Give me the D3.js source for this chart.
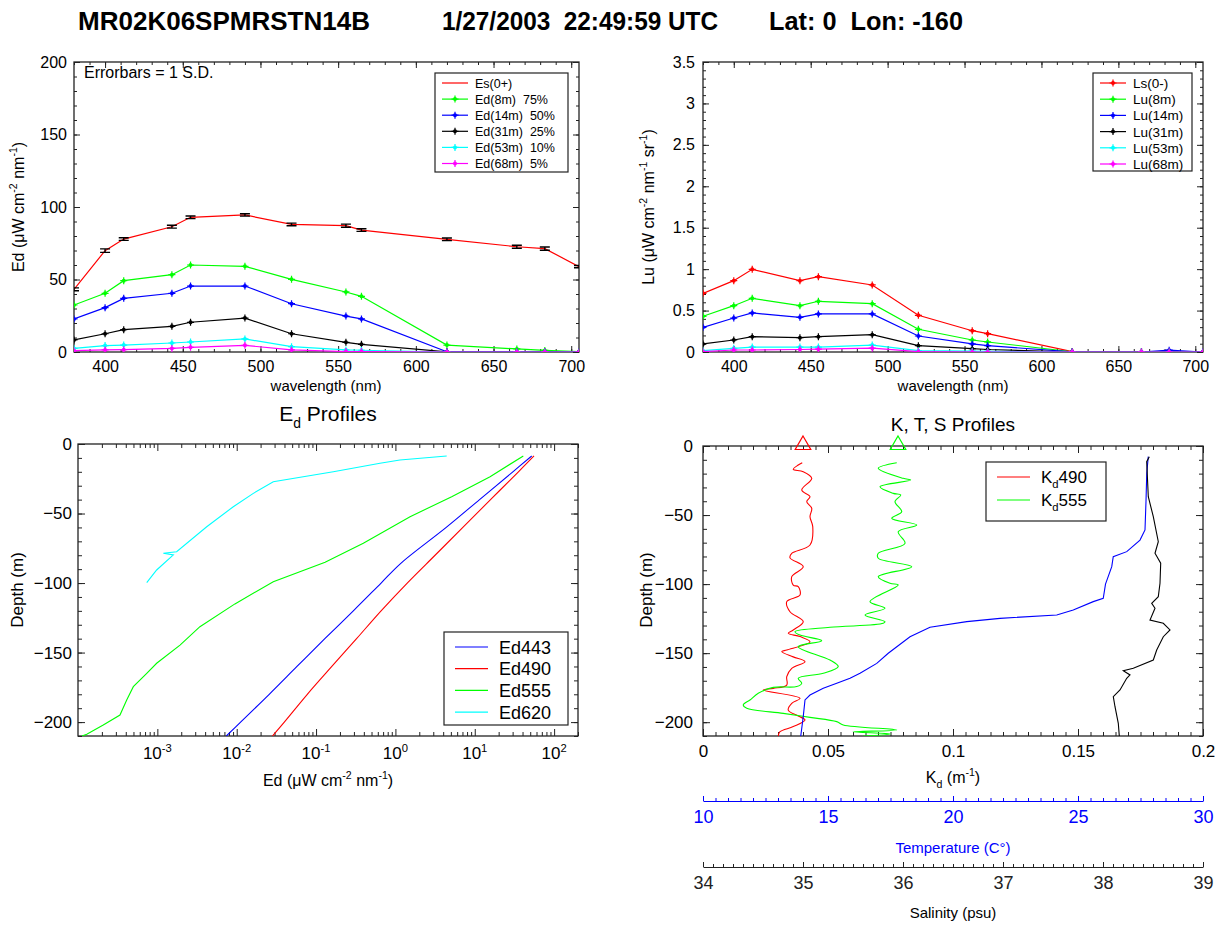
<!DOCTYPE html>
<html>
<head>
<meta charset="utf-8">
<script src="https://cdn.jsdelivr.net/npm/d3@7"></script>
<style>
  body { margin: 0; background: #fff; }
  svg { font-family: Arial, "Liberation Sans", Helvetica, sans-serif; }
</style>
</head>
<body>
<svg id="chart" width="1228" height="927"></svg>
<script>
// ---------------- spectral data (wavelength, nm) ----------------
const wavelengths = [380, 400, 412, 443, 455, 490, 520, 555, 565, 620, 665, 683, 705];

// Downwelling irradiance, uW cm^-2 nm^-1
const es0   = [43.2, 69.9, 77.9, 86.4, 92.9, 94.5, 88.0, 87.1, 84.1, 77.7, 72.6, 71.3, 58.9];
const es0SD = [1.0, 1.2, 0.9, 1.0, 0.9, 0.8, 0.9, 1.1, 0.9, 0.9, 1.0, 1.1, 0.8];
const ed8m  = [32.4, 40.5, 49.2, 53.3, 60.0, 59.1, 50.1, 41.4, 38.4, 4.8, 2.1, 1.1, 0.3];
const ed14m = [22.8, 30.6, 37.0, 40.5, 45.5, 45.5, 33.3, 24.8, 22.8, 0.2, 0.05, 0.03, 0.0];
const ed31m = [8.3, 12.6, 15.4, 17.7, 20.5, 23.4, 12.6, 6.7, 5.3, 0.1, 0, 0, 0];
const ed53m = [2.5, 4.4, 4.8, 6.2, 6.9, 9.0, 3.7, 1.4, 1.2, 0, 0, 0, 0];
const ed68m = [0.9, 1.4, 1.6, 2.5, 3.2, 4.6, 1.4, 0.3, 0.3, 0, 0, 0, 0];
const edLabels = ["Es(0+)", "Ed(8m)  75%", "Ed(14m)  50%", "Ed(31m)  25%", "Ed(53m)  10%", "Ed(68m)  5%"];

// Upwelling radiance, uW cm^-2 nm^-1 sr^-1
const ls0   = [0.708, 0.861, 0.998, 0.861, 0.909, 0.809, 0.443, 0.257, 0.221, 0.005, 0, 0, 0];
const lu8m  = [0.431, 0.559, 0.648, 0.559, 0.612, 0.583, 0.274, 0.145, 0.121, 0.003, 0, 0, 0];
const lu14m = [0.298, 0.410, 0.471, 0.418, 0.459, 0.459, 0.193, 0.097, 0.076, 0.002, 0, 0.022, 0];
const lu31m = [0.097, 0.145, 0.185, 0.173, 0.185, 0.209, 0.076, 0.040, 0.030, 0, 0, 0, 0];
const lu53m = [0.016, 0.044, 0.060, 0.060, 0.060, 0.084, 0.016, 0.010, 0.008, 0, 0, 0, 0];
const lu68m = [0.004, 0.024, 0.024, 0.030, 0.034, 0.046, 0.004, 0, 0, 0, 0, 0, 0];
const luLabels = ["Ls(0-)", "Lu(8m)", "Lu(14m)", "Lu(31m)", "Lu(53m)", "Lu(68m)"];

const seriesColors = ["#ff0000", "#00ff00", "#0000ff", "#000000", "#00ffff", "#ff00ff"];

// ---------------- Ed depth profiles ----------------
const ed443Depth = [-8.6, -20, -40, -60, -85.8, -100, -120, -140, -160, -180, -200, -210];
const ed443      = [52.2, 30.2, 11.5, 4.37, 1.17, 0.66, 0.295, 0.129, 0.0575, 0.0257, 0.0112, 0.0074];
const ed490Depth = [-8.6, -20, -40, -60, -80, -100, -120, -140, -160, -180, -200, -210];
const ed490      = [55.8, 35.5, 15.8, 7.08, 3.16, 1.41, 0.66, 0.324, 0.158, 0.0776, 0.0398, 0.0282];
const ed555Depth = [-8.6, -23.5, -37.9, -52.3, -71.4, -85, -99, -115, -131.4, -144.6, -157.7, -164.9, -174.5, -184.1, -194.9, -202.1, -208.8, -210];
const ed555      = [40.9, 15.6, 5.12, 1.53, 0.394, 0.13, 0.0289, 0.0095, 0.00344, 0.00193, 0.00098, 0.000735, 0.000498, 0.000411, 0.000338, 0.000208, 0.000129, 0.000112];
const ed620Depth = [-8.6, -11.5, -13.9, -19.9, -27.1, -35.5, -45.1, -59.5, -77.5, -78.6, -79.8, -90.6, -99.7];
const ed620      = [4.43, 1.14, 0.64, 0.165, 0.0289, 0.0162, 0.00906, 0.00419, 0.00175, 0.00119, 0.00159, 0.00098, 0.000735];
const edProfileLabels = ["Ed443", "Ed490", "Ed555", "Ed620"];
const edProfileColors = ["#0000ff", "#ff0000", "#00ff00", "#00ffff"];
const logDecades = [-3, -2, -1, 0, 1, 2];

// ---------------- K, T, S profiles ----------------
const kd490Depth = [-12.1, -13.8, -16.9, -18.6, -23.4, -31.9, -36.7, -40.3, -45.1, -51.2, -58.4, -71.7, -77.7, -81, -87.4, -94.6, -100.7, -101.9, -107.9, -112.7, -120, -127.2, -133.2, -135.6, -138, -141.7, -147.7, -148.9, -152.7, -156.2, -161, -167, -173.1, -175.5, -176.7, -182.7, -186.3, -191.2, -195.5, -198.4, -203.2, -206.9, -210];
const kd490      = [0.0397, 0.0381, 0.0361, 0.0401, 0.0435, 0.0395, 0.0428, 0.0415, 0.0435, 0.0428, 0.0439, 0.0428, 0.0355, 0.0348, 0.0401, 0.0355, 0.0361, 0.0381, 0.0388, 0.0335, 0.0348, 0.0401, 0.0361, 0.0341, 0.0388, 0.0428, 0.0335, 0.0315, 0.0361, 0.0408, 0.0355, 0.0335, 0.0335, 0.0281, 0.0241, 0.0388, 0.0355, 0.0341, 0.0381, 0.0408, 0.0361, 0.0308, 0.0301];
const kd555Depth = [-12.1, -16.1, -23.4, -24.6, -29.5, -34.3, -35.5, -40.3, -47.6, -52.4, -57.2, -62.1, -70.5, -77.7, -81.3, -87.4, -94.6, -99.4, -100.6, -112.7, -117.5, -122.4, -127.2, -128.4, -131.3, -134.5, -136.9, -141, -145.3, -155, -159.8, -164.6, -168.2, -171.8, -174.2, -174.8, -179.1, -183.9, -187.5, -189.9, -193.6, -196.5, -199.6, -202, -205.6, -207, -208.5, -210];
const kd555      = [0.0775, 0.0701, 0.0801, 0.0831, 0.0708, 0.0761, 0.0791, 0.0768, 0.0795, 0.0755, 0.0855, 0.0781, 0.0808, 0.0701, 0.0701, 0.0835, 0.0701, 0.0748, 0.0781, 0.0668, 0.0728, 0.0648, 0.0728, 0.0721, 0.0508, 0.0368, 0.0388, 0.0475, 0.0381, 0.0508, 0.0541, 0.0481, 0.0381, 0.0395, 0.0375, 0.0281, 0.0221, 0.0188, 0.0161, 0.0175, 0.0321, 0.0428, 0.0535, 0.0561, 0.0775, 0.060, 0.075, 0.064];
const kdSurface  = [0.040, 0.078];   // 490, 555
const tempDepth = [-7.7, -19.8, -40, -60.8, -68.1, -76.5, -80.2, -87.4, -100, -110.3, -112.7, -118.8, -122.4, -124.8, -127.2, -131.3, -138.1, -150.1, -157.4, -164.6, -168.2, -171.8, -175.5, -180.3, -183.9, -196, -210];
const temp      = [27.81, 27.75, 27.72, 27.68, 27.48, 26.95, 26.41, 26.35, 26.1, 26.01, 25.61, 24.81, 24.15, 21.88, 20.55, 19.08, 18.28, 17.41, 16.95, 16.28, 15.88, 15.35, 14.81, 14.28, 14.08, 14.01, 13.91];
const salDepth = [-7.7, -11.4, -36.7, -51.2, -69.3, -77.7, -84.9, -99.4, -109.1, -113.9, -117.5, -126, -128.4, -133.2, -138.1, -147.7, -155, -161, -162.7, -165.8, -168.2, -176.7, -181.5, -188.8, -200.8, -210];
const sal      = [38.463, 38.437, 38.453, 38.503, 38.553, 38.52, 38.577, 38.57, 38.553, 38.487, 38.52, 38.47, 38.603, 38.67, 38.603, 38.537, 38.503, 38.303, 38.203, 38.27, 38.237, 38.17, 38.103, 38.12, 38.153, 38.163];

// tick values
const waveTicks = [400, 450, 500, 550, 600, 650, 700];
const waveMinor = d3.range(380, 705, 10);
const edTicks = [0, 50, 100, 150, 200];
const edMinor = d3.range(0, 201, 10);
const luTicks = d3.range(0, 3.51, 0.5);
const luMinor = d3.range(0, 3.51, 0.1);
const depthTicks = [0, -50, -100, -150, -200];
const depthMinor = d3.range(0, -211, -10);
const kdTicks = [0, 0.05, 0.1, 0.15, 0.2];
const kdTickLabels = ["0", "0.05", "0.1", "0.15", "0.2"];
const kdMinor = d3.range(0, 0.2001, 0.005);
const tempTicks = [10, 15, 20, 25, 30];
const tempMinor = d3.range(10, 30.01, 0.5);
const salTicks = [34, 35, 36, 37, 38, 39];
const salMinor = d3.range(34, 39.001, 0.1);

// ---------------- drawing ----------------
const FONT = "Arial, 'Liberation Sans', Helvetica, sans-serif";
const svg = d3.select("#chart");
const FRAME = "#222";

const xTL = d3.scaleLinear().domain([380, 705]).range([74, 579]);
const yTL = d3.scaleLinear().domain([0, 200]).range([352, 62]);
const xTR = d3.scaleLinear().domain([380, 705]).range([703, 1203]);
const yTR = d3.scaleLinear().domain([0, 3.5]).range([352, 62]);
const xBL = d3.scaleLog().domain([1e-4, 200]).range([78, 578]);
const yBL = d3.scaleLinear().domain([-210, 0]).range([736, 444]);
const xKd = d3.scaleLinear().domain([0, 0.2]).range([703, 1203]);
const xT  = d3.scaleLinear().domain([10, 30]).range([703, 1203]);
const xS  = d3.scaleLinear().domain([34, 39]).range([703, 1203]);
const yBR = d3.scaleLinear().domain([-210, 0]).range([736, 446]);

function axisGroup(gen, tx, ty, o = {}) {
  const g = svg.append("g").attr("transform", `translate(${tx},${ty})`).call(gen);
  if (!o.keepDomain) g.select(".domain").remove();
  else g.select(".domain").attr("stroke", o.color || FRAME).attr("stroke-width", 1.2);
  g.selectAll(".tick line").attr("stroke", o.color || FRAME).attr("stroke-width", 1);
  g.selectAll(".tick text").attr("font-family", FONT).attr("font-size", o.fs || 16).attr("fill", o.color || "#000");
  return g;
}

function framedAxes(x, y, c) {
  const [l, r] = x.range(), [b, t] = y.range();
  const none = () => "";
  axisGroup(d3.axisBottom(x).tickValues(c.xMajor).tickSizeInner(-c.major).tickSizeOuter(0).tickPadding(c.xPad).tickFormat(c.xFmt || none), 0, b, { fs: c.fs });
  axisGroup(d3.axisBottom(x).tickValues(c.xMinor).tickSizeInner(-c.minor).tickSizeOuter(0).tickFormat(none), 0, b);
  axisGroup(d3.axisTop(x).tickValues(c.xMajor).tickSizeInner(-c.major).tickSizeOuter(0).tickFormat(none), 0, t);
  axisGroup(d3.axisTop(x).tickValues(c.xMinor).tickSizeInner(-c.minor).tickSizeOuter(0).tickFormat(none), 0, t);
  axisGroup(d3.axisLeft(y).tickValues(c.yMajor).tickSizeInner(-c.major).tickSizeOuter(0).tickPadding(c.yPad).tickFormat(c.yFmt || none), l, 0, { fs: c.fs });
  axisGroup(d3.axisLeft(y).tickValues(c.yMinor).tickSizeInner(-c.minor).tickSizeOuter(0).tickFormat(none), l, 0);
  axisGroup(d3.axisRight(y).tickValues(c.yMajor).tickSizeInner(-c.major).tickSizeOuter(0).tickFormat(none), r, 0);
  axisGroup(d3.axisRight(y).tickValues(c.yMinor).tickSizeInner(-c.minor).tickSizeOuter(0).tickFormat(none), r, 0);
  svg.append("rect").attr("x", l).attr("y", t).attr("width", r - l).attr("height", b - t)
    .attr("fill", "none").attr("stroke", FRAME).attr("stroke-width", 1.3);
}

// text with super/subscripts
function rich(sel, parts, fs) {
  let shift = 0;
  parts.forEach(p => {
    const target = p.sup ? -0.42 * fs : p.sub ? 0.32 * fs : 0;
    sel.append("tspan").attr("dy", target - shift)
      .attr("font-size", (p.sup || p.sub) ? fs * 0.66 : fs).text(p.t);
    shift = target;
  });
  return sel;
}
function label(x, y, parts, fs, o = {}) {
  const t = svg.append("text").attr("x", x).attr("y", y).attr("font-family", FONT)
    .attr("font-size", fs).attr("text-anchor", o.anchor || "middle").attr("fill", o.color || "#000")
    .style("white-space", "pre");
  if (o.rotate) t.attr("transform", `rotate(-90,${x},${y})`);
  if (o.weight) t.attr("font-weight", o.weight);
  return rich(t, parts, fs);
}

function clip(id, x, y) {
  const [l, r] = x.range(), [b, t] = y.range();
  svg.append("clipPath").attr("id", id).append("rect")
    .attr("x", l).attr("y", t - 12).attr("width", r - l).attr("height", b - t + 12);
  return `url(#${id})`;
}

function drawMarker(g, cx, cy, color) {
  g.append("circle").attr("cx", cx).attr("cy", cy).attr("r", 2).attr("fill", color);
  g.append("path").attr("d", `M${cx - 3.5},${cy}H${cx + 3.5}M${cx},${cy - 3.5}V${cy + 3.5}`)
    .attr("stroke", color).attr("stroke-width", 1.2);
}

// ---- title ----
const titleParts = [
  { text: "MR02K06SPMRSTN14B", x: 78, w: 292 },
  { text: "1/27/2003  22:49:59 UTC", x: 442, w: 276 },
  { text: "Lat: 0  Lon: -160", x: 769, w: 194 }
];
titleParts.forEach(p => {
  svg.append("text").attr("x", p.x).attr("y", 30).attr("font-family", FONT)
    .attr("font-size", 26).attr("font-weight", "bold").style("white-space", "pre")
    .attr("textLength", p.w).attr("lengthAdjust", "spacingAndGlyphs").text(p.text);
});

// ================= top-left: Ed spectra =================
framedAxes(xTL, yTL, {
  xMajor: waveTicks, xMinor: waveMinor, yMajor: edTicks, yMinor: edMinor,
  major: 6, minor: 3, xPad: 9, yPad: 7, fs: 16, xFmt: d3.format("d"), yFmt: d3.format("d")
});
{
  const g = svg.append("g").attr("clip-path", clip("clipTL", xTL, yTL));
  const edSeries = [es0, ed8m, ed14m, ed31m, ed53m, ed68m];
  const line = d3.line().x((d, i) => xTL(wavelengths[i])).y(d => yTL(d));
  edSeries.forEach((s, k) => {
    g.append("path").datum(s).attr("d", line).attr("fill", "none")
      .attr("stroke", seriesColors[k]).attr("stroke-width", 1.2);
    if (k === 0) {
      s.forEach((v, i) => {
        const cx = xTL(wavelengths[i]), y1 = yTL(v + es0SD[i]), y2 = yTL(v - es0SD[i]);
        g.append("path").attr("d", `M${cx},${y1}V${y2}M${cx - 5},${y1}H${cx + 5}M${cx - 5},${y2}H${cx + 5}`)
          .attr("stroke", "#000").attr("stroke-width", 1.4).attr("fill", "none");
      });
    } else {
      s.forEach((v, i) => drawMarker(g, xTL(wavelengths[i]), yTL(v), seriesColors[k]));
    }
  });
  svg.append("text").attr("x", 84).attr("y", 78).attr("font-family", FONT).attr("font-size", 16)
    .text("Errorbars = 1 S.D.");
  // legend
  const lg = svg.append("g");
  lg.append("rect").attr("x", 435).attr("y", 73).attr("width", 133).attr("height", 99)
    .attr("fill", "#fff").attr("stroke", FRAME).attr("stroke-width", 1.2);
  edLabels.forEach((t, k) => {
    const cy = 83 + k * 16.1;
    lg.append("line").attr("x1", 442).attr("x2", 468).attr("y1", cy).attr("y2", cy)
      .attr("stroke", seriesColors[k]).attr("stroke-width", 1.2);
    if (k > 0) drawMarker(lg, 455, cy, seriesColors[k]);
    lg.append("text").attr("x", 475).attr("y", cy + 4.5).attr("font-family", FONT)
      .attr("font-size", 12.5).style("white-space", "pre").text(t);
  });
}
label(326, 391, [{ t: "wavelength (nm)" }], 15);
label(24, 207, [{ t: "Ed (μW cm" }, { t: "-2", sup: true }, { t: " nm" }, { t: "-1", sup: true }, { t: ")" }], 16, { rotate: true });

// ================= top-right: Lu spectra =================
framedAxes(xTR, yTR, {
  xMajor: waveTicks, xMinor: waveMinor, yMajor: luTicks, yMinor: luMinor,
  major: 6, minor: 3, xPad: 9, yPad: 8, fs: 16, xFmt: d3.format("d"), yFmt: d3.format("~g")
});
{
  const g = svg.append("g").attr("clip-path", clip("clipTR", xTR, yTR));
  const luSeries = [ls0, lu8m, lu14m, lu31m, lu53m, lu68m];
  const line = d3.line().x((d, i) => xTR(wavelengths[i])).y(d => yTR(d));
  luSeries.forEach((s, k) => {
    g.append("path").datum(s).attr("d", line).attr("fill", "none")
      .attr("stroke", seriesColors[k]).attr("stroke-width", 1.2);
    s.forEach((v, i) => drawMarker(g, xTR(wavelengths[i]), yTR(v), seriesColors[k]));
  });
  const lg = svg.append("g");
  lg.append("rect").attr("x", 1093).attr("y", 73).attr("width", 99).attr("height", 98)
    .attr("fill", "#fff").attr("stroke", FRAME).attr("stroke-width", 1.2);
  luLabels.forEach((t, k) => {
    const cy = 83 + k * 16.2;
    lg.append("line").attr("x1", 1100).attr("x2", 1126).attr("y1", cy).attr("y2", cy)
      .attr("stroke", seriesColors[k]).attr("stroke-width", 1.2);
    drawMarker(lg, 1113, cy, seriesColors[k]);
    lg.append("text").attr("x", 1133).attr("y", cy + 5).attr("font-family", FONT)
      .attr("font-size", 13.5).text(t);
  });
}
label(953, 391, [{ t: "wavelength (nm)" }], 15);
label(654, 207, [{ t: "Lu (μW cm" }, { t: "-2", sup: true }, { t: " nm" }, { t: "-1", sup: true }, { t: " sr" }, { t: "-1", sup: true }, { t: ")" }], 16, { rotate: true });

// ================= bottom-left: Ed profiles =================
{
  const logMajor = logDecades.map(e => Math.pow(10, e));
  const logMinor = [];
  for (let e = -4; e <= 2; e++) for (let m = 2; m <= 9; m++) {
    const v = m * Math.pow(10, e);
    if (v <= 200) logMinor.push(v);
  }
  framedAxes(xBL, yBL, {
    xMajor: logMajor, xMinor: logMinor, yMajor: depthTicks, yMinor: depthMinor,
    major: 7, minor: 4, xPad: 9, yPad: 6, fs: 17, xFmt: () => "", yFmt: d3.format("d")
  });
  logDecades.forEach(e => {
    label(xBL(Math.pow(10, e)), 759, [{ t: "10" }, { t: String(e), sup: true }], 17);
  });
  const g = svg.append("g").attr("clip-path", clip("clipBL", xBL, yBL));
  const profiles = [[ed443, ed443Depth], [ed490, ed490Depth], [ed555, ed555Depth], [ed620, ed620Depth]];
  profiles.forEach(([vals, dep], k) => {
    const line = d3.line().x(d => xBL(d)).y((d, i) => yBL(dep[i]));
    if (k < 2) line.curve(d3.curveCatmullRom.alpha(0.5));
    g.append("path").datum(vals).attr("d", line).attr("fill", "none")
      .attr("stroke", edProfileColors[k]).attr("stroke-width", 1.1);
  });
  const lg = svg.append("g");
  lg.append("rect").attr("x", 444).attr("y", 632).attr("width", 124).attr("height", 93)
    .attr("fill", "#fff").attr("stroke", FRAME).attr("stroke-width", 1.2);
  edProfileLabels.forEach((t, k) => {
    const cy = 647 + k * 21.7;
    lg.append("line").attr("x1", 455).attr("x2", 488).attr("y1", cy).attr("y2", cy)
      .attr("stroke", edProfileColors[k]).attr("stroke-width", 1.2);
    lg.append("text").attr("x", 499).attr("y", cy + 6.5).attr("font-family", FONT)
      .attr("font-size", 18).text(t);
  });
}
label(328, 421, [{ t: "E" }, { t: "d", sub: true }, { t: " Profiles" }], 21);
label(328, 786, [{ t: "Ed (μW cm" }, { t: "-2", sup: true }, { t: " nm" }, { t: "-1", sup: true }, { t: ")" }], 16);
label(23, 590, [{ t: "Depth (m)" }], 17, { rotate: true });

// ================= bottom-right: K, T, S profiles =================
framedAxes(xKd, yBR, {
  xMajor: kdTicks, xMinor: kdMinor, yMajor: depthTicks, yMinor: depthMinor,
  major: 7, minor: 4, xPad: 9, yPad: 10, fs: 17,
  xFmt: (d, i) => kdTickLabels[i], yFmt: d3.format("d")
});
{
  const g = svg.append("g").attr("clip-path", clip("clipBR", xKd, yBR));
  const curve = d3.curveCatmullRom.alpha(0.5);
  g.append("path").datum(kd490)
    .attr("d", d3.line().curve(curve).x(d => xKd(d)).y((d, i) => yBR(kd490Depth[i])))
    .attr("fill", "none").attr("stroke", "#ff0000").attr("stroke-width", 1.1);
  g.append("path").datum(kd555)
    .attr("d", d3.line().curve(curve).x(d => xKd(d)).y((d, i) => yBR(kd555Depth[i])))
    .attr("fill", "none").attr("stroke", "#00ff00").attr("stroke-width", 1.1);
  g.append("path").datum(temp)
    .attr("d", d3.line().x(d => xT(d)).y((d, i) => yBR(tempDepth[i])))
    .attr("fill", "none").attr("stroke", "#0000ff").attr("stroke-width", 1.1);
  g.append("path").datum(sal)
    .attr("d", d3.line().x(d => xS(d)).y((d, i) => yBR(salDepth[i])))
    .attr("fill", "none").attr("stroke", "#000").attr("stroke-width", 1.1);
  // surface Kd markers
  const tri = d3.symbol().type(d3.symbolTriangle).size(105);
  kdSurface.forEach((v, k) => {
    svg.append("path").attr("d", tri()).attr("transform", `translate(${xKd(v)},${yBR(0) - 1})`)
      .attr("fill", "none").attr("stroke", k === 0 ? "#ff0000" : "#00ff00").attr("stroke-width", 1.2);
  });
  // legend
  const lg = svg.append("g");
  lg.append("rect").attr("x", 986).attr("y", 462).attr("width", 120).attr("height", 59)
    .attr("fill", "#fff").attr("stroke", FRAME).attr("stroke-width", 1.2);
  const kdNames = ["490", "555"], kdColors = ["#ff0000", "#00ff00"];
  kdNames.forEach((n, k) => {
    const cy = 477 + k * 23;
    lg.append("line").attr("x1", 997).attr("x2", 1030).attr("y1", cy).attr("y2", cy)
      .attr("stroke", kdColors[k]).attr("stroke-width", 1.2);
    const t = lg.append("text").attr("x", 1041).attr("y", cy + 6).attr("font-family", FONT).attr("font-size", 17);
    rich(t, [{ t: "K" }, { t: "d", sub: true }, { t: n }], 17);
  });
}
label(953, 431, [{ t: "K, T, S Profiles" }], 19);
label(652, 590, [{ t: "Depth (m)" }], 17, { rotate: true });
label(953, 783, [{ t: "K" }, { t: "d", sub: true }, { t: " (m" }, { t: "-1", sup: true }, { t: ")" }], 16);

// temperature axis
axisGroup(d3.axisBottom(xT).tickValues(tempMinor).tickSizeInner(-3).tickSizeOuter(0).tickFormat(() => ""), 0, 801, { keepDomain: true, color: "#0000ff" });
axisGroup(d3.axisBottom(xT).tickValues(tempTicks).tickSizeInner(-5).tickSizeOuter(0).tickPadding(9).tickFormat(d3.format("d")), 0, 801, { color: "#0000ff", fs: 18 });
label(953, 853, [{ t: "Temperature (C°)" }], 15, { color: "#0000ff" });

// salinity axis
axisGroup(d3.axisBottom(xS).tickValues(salMinor).tickSizeInner(-3).tickSizeOuter(0).tickFormat(() => ""), 0, 867, { keepDomain: true, color: "#222" });
axisGroup(d3.axisBottom(xS).tickValues(salTicks).tickSizeInner(-5).tickSizeOuter(0).tickPadding(9).tickFormat(d3.format("d")), 0, 867, { color: "#222", fs: 18 });
label(953, 918, [{ t: "Salinity (psu)" }], 15);
</script>
</body>
</html>
